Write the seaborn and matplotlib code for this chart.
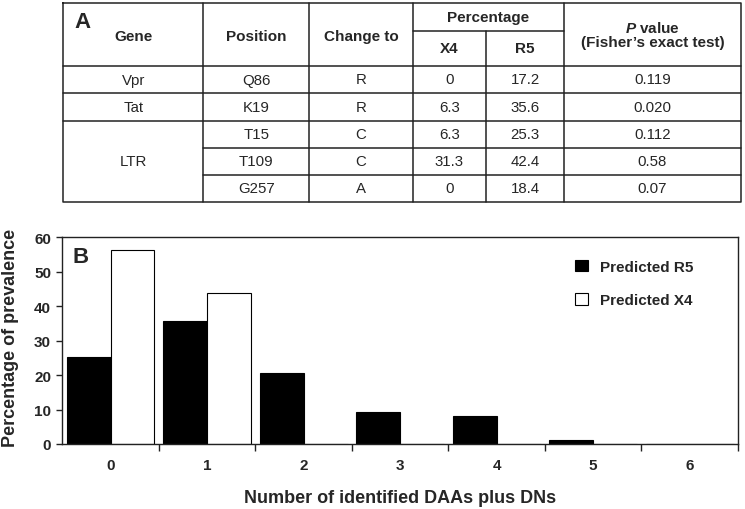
import matplotlib
matplotlib.use("Agg")
import matplotlib.pyplot as plt
import seaborn as sns
import pandas as pd

# ---- data ----
genes = ["Vpr", "Tat", "LTR", "", ""]
positions = ["Q86", "K19", "T15", "T109", "G257"]
change_to = ["R", "R", "C", "C", "A"]
pct_x4 = ["0", "6.3", "6.3", "31.3", "0"]
pct_r5 = ["17.2", "35.6", "25.3", "42.4", "18.4"]
p_values = ["0.119", "0.020", "0.112", "0.58", "0.07"]

n_identified = [0, 1, 2, 3, 4, 5, 6]
predicted_r5 = [25.3, 35.6, 20.7, 9.2, 8.0, 1.1, 0]
predicted_x4 = [56.3, 43.8, 0, 0, 0, 0, 0]

sns.set_style("ticks")
plt.rcParams["font.family"] = ["Liberation Sans", "DejaVu Sans"]
plt.rcParams["mathtext.fontset"] = "custom"
plt.rcParams["mathtext.rm"] = "Liberation Sans"
plt.rcParams["mathtext.bfit"] = "Liberation Sans:italic:bold"

fig = plt.figure(figsize=(7.45, 5.1), dpi=100)

# ---- panel A: table drawn in pixel coordinates ----
tab = fig.add_axes([0, 0, 1, 1])
tab.set_xlim(0, 745)
tab.set_ylim(510, 0)
tab.axis("off")

lc = "#222222"
lw = 1.1
cols = [63.3, 203.3, 309.3, 412.7, 486.0, 564.3, 740.7]
top, hsplit, hbot = 4.0, 31.7, 66.7
rows = [66.7, 94.3, 121.7, 149.0, 175.7, 202.7]

# outer box
tab.plot([cols[0], cols[-1], cols[-1], cols[0], cols[0]],
         [top, top, rows[-1], rows[-1], top], color=lc, lw=lw, solid_capstyle="projecting")
# vertical lines
for x in cols[1:-1]:
    y0 = hsplit if x == cols[4] else top
    tab.plot([x, x], [y0, rows[-1]], color=lc, lw=lw)
# header split under "Percentage"
tab.plot([cols[3], cols[5]], [hsplit, hsplit], color=lc, lw=lw)
# horizontal row lines
for i, y in enumerate(rows[:-1]):
    x0 = cols[1] if i >= 3 else cols[0]
    tab.plot([x0, cols[-1]], [y, y], color=lc, lw=lw)

hd = dict(ha="center", va="center", fontsize=11, fontweight="bold")
hy = (top + hbot) / 2 + 2
tab.text((cols[0] + cols[1]) / 2, hy, "Gene", **hd)
tab.text((cols[1] + cols[2]) / 2, hy, "Position", **hd)
tab.text((cols[2] + cols[3]) / 2, hy, "Change to", **hd)
tab.text((cols[3] + cols[5]) / 2, (top + hsplit) / 2, "Percentage", **hd)
tab.text((cols[3] + cols[4]) / 2, (hsplit + hbot) / 2, "X4", **hd)
tab.text((cols[4] + cols[5]) / 2, (hsplit + hbot) / 2, "R5", **hd)
tab.text((cols[5] + cols[6]) / 2, 28.5, r"$\mathbfit{P}$ value", **hd)
tab.text((cols[5] + cols[6]) / 2, 43.0, "(Fisher\u2019s exact test)", **hd)
tab.text(74.5, 23, "A", ha="left", va="center", fontsize=16, fontweight="bold")

cd = dict(ha="center", va="center", fontsize=10.8)
for i in range(len(positions)):
    yc = (rows[i] + rows[i + 1]) / 2
    if i < 2:
        tab.text((cols[0] + cols[1]) / 2, yc, genes[i], **cd)
    tab.text((cols[1] + cols[2]) / 2, yc, positions[i], **cd)
    tab.text((cols[2] + cols[3]) / 2, yc, change_to[i], **cd)
    tab.text((cols[3] + cols[4]) / 2, yc, pct_x4[i], **cd)
    tab.text((cols[4] + cols[5]) / 2, yc, pct_r5[i], **cd)
    tab.text((cols[5] + cols[6]) / 2, yc, p_values[i], **cd)
tab.text((cols[0] + cols[1]) / 2, (rows[2] + rows[5]) / 2, genes[2], **cd)

# ---- panel B: bar chart ----
df = pd.DataFrame({
    "n": n_identified * 2,
    "pct": predicted_r5 + predicted_x4,
    "group": ["Predicted R5"] * len(n_identified) + ["Predicted X4"] * len(n_identified),
})

ax = fig.add_axes([0.0836, 0.1275, 0.9070, 0.4052])
sns.barplot(data=df, x="n", y="pct", hue="group", ax=ax,
            palette={"Predicted R5": "black", "Predicted X4": "white"},
            edgecolor="black", linewidth=0.8, width=0.91, gap=0, saturation=1)

ax.set_xlim(-0.5, 6.5)
ax.set_ylim(0, 60)
ax.set_yticks(range(0, 61, 10))
for s in ax.spines.values():
    s.set_visible(True)
    s.set_color("#222222")
    s.set_linewidth(1.0)

ax.set_xticks([i - 0.5 for i in range(1, 8)], minor=True)
ax.tick_params(axis="x", which="major", length=0, pad=10, labelsize=11)
ax.tick_params(axis="x", which="minor", length=5, width=1, direction="out", color="#222222")
ax.tick_params(axis="y", length=4, width=1, pad=4, labelsize=11, color="#222222")
for lab in ax.get_xticklabels() + ax.get_yticklabels():
    lab.set_fontweight("bold")

ax.set_xlabel("Number of identified DAAs plus DNs", fontsize=13, fontweight="bold", labelpad=12)
ax.set_ylabel("Percentage of prevalence", fontsize=13, fontweight="bold")
ax.yaxis.set_label_coords(-0.064, 0.52)

ax.text(0.0144, 0.96, "B", transform=ax.transAxes, ha="left", va="top",
        fontsize=16, fontweight="bold")

ax.legend(loc="upper left", bbox_to_anchor=(0.739, 0.958), frameon=False,
          prop={"weight": "bold", "size": 11},
          handlelength=0.8, handleheight=0.8, handletextpad=0.8, labelspacing=1.25)

fig.savefig("out.png", dpi=100)
